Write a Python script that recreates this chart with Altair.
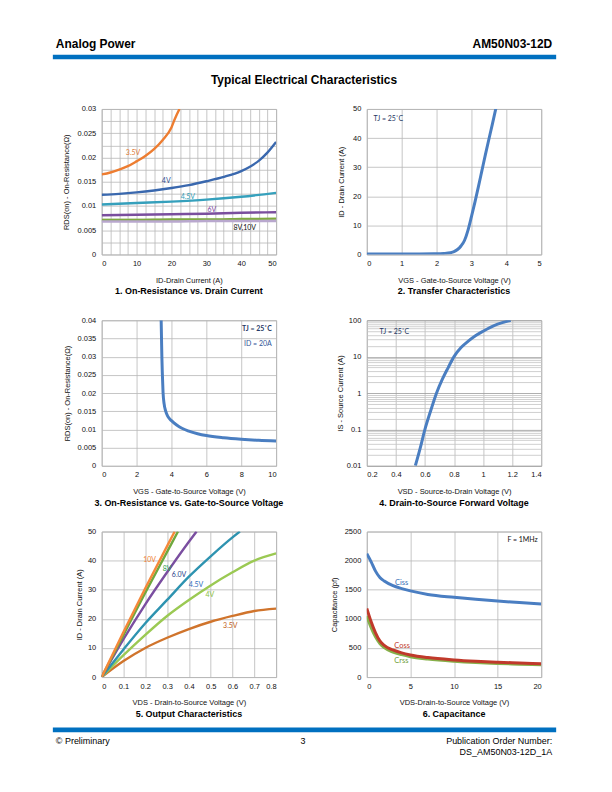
import altair as alt
import pandas as pd

FONT = "Liberation Sans"
ANN = "Lato"
GRID = "#B8B8B8"
W, H = 175, 146

# ---------------- Chart 1: RDS(on) vs ID ----------------
c1_x_35 = [0, 2.5, 5, 7.5, 10, 12.5, 15, 17.5, 20, 21, 22.3]
c1_y_35 = [0.0165, 0.0169, 0.0175, 0.0182, 0.0192, 0.0203, 0.0217, 0.0236, 0.0262, 0.0280, 0.0300]
c1_x_4 = [0, 5, 10, 15, 20, 25, 30, 35, 40, 42.5, 45, 47.5, 50]
c1_y_4 = [0.0123, 0.0125, 0.0128, 0.0132, 0.0137, 0.0143, 0.0151, 0.0160, 0.0172, 0.0181, 0.0193, 0.0210, 0.0232]
c1_x_flat = [0, 10, 20, 30, 40, 50]
c1_y_45 = [0.0103, 0.0106, 0.0109, 0.0113, 0.0119, 0.0127]
c1_y_6 = [0.0081, 0.0082, 0.0083, 0.0084, 0.0086, 0.0087]
c1_y_8 = [0.0071, 0.0071, 0.0072, 0.0072, 0.0073, 0.0074]
c1_y_10 = [0.0068, 0.0068, 0.0068, 0.0069, 0.0069, 0.0069]
c1_names = ["3.5V", "4V", "4.5V", "6V", "8V", "10V"]
c1_colors = ["#ED7D31", "#3A68AE", "#35A0BC", "#7A4E9E", "#7FAA3F", "#B9A8CE"]
c1_lbl_text = ["3.5V", "4V", "4.5V", "6V", "8V,10V"]
c1_lbl_x = [9, 18.5, 24.7, 31.6, 41]
c1_lbl_y = [0.0209, 0.0152, 0.0118, 0.0092, 0.0055]
c1_lbl_col = ["#E07B39", "#2F4F8F", "#31A0B8", "#7B3FA0", "#111111"]

# ---------------- Chart 2: Transfer ----------------
c2_vgs = [0, 0.5, 1.0, 1.5, 2.0, 2.2, 2.4, 2.5, 2.6, 2.7, 2.8, 2.9, 3.0, 3.1, 3.2, 3.3, 3.4, 3.5, 3.6, 3.7]
c2_id = [0.2, 0.2, 0.2, 0.2, 0.25, 0.35, 0.6, 0.95, 1.7, 2.9, 4.8, 8.3, 13.0, 18.0, 23.3, 28.8, 34.3, 39.6, 44.8, 50.2]

# ---------------- Chart 3: RDS vs VGS ----------------
c3_vgs = [3.41, 3.43, 3.45, 3.48, 3.52, 3.58, 3.67, 3.8, 4.0, 4.3, 4.6, 5.0, 5.5, 6.0, 7.0, 8.0, 9.0, 10.0]
c3_rds = [0.040, 0.035, 0.030, 0.025, 0.020, 0.017, 0.015, 0.0135, 0.0124, 0.0112, 0.0103, 0.0095, 0.0088, 0.0083, 0.0077, 0.0073, 0.0070, 0.0068]

# ---------------- Chart 4: Body diode ----------------
c4_vsd = [0.534, 0.567, 0.60, 0.64, 0.68, 0.72, 0.76, 0.80, 0.85, 0.90, 0.95, 1.00, 1.05, 1.10, 1.15, 1.19]
c4_is = [0.01, 0.03, 0.1, 0.33, 1.0, 2.4, 5.0, 10, 18, 27, 38, 50, 64, 78, 90, 100]

# ---------------- Chart 5: Output ----------------
c5_x_10 = [0, 0.1, 0.2, 0.3, 0.335]
c5_y_10 = [0, 15.5, 30.5, 45, 50]
c5_x_8 = [0, 0.1, 0.2, 0.3, 0.35]
c5_y_8 = [0, 14.5, 29, 43, 50]
c5_x_6 = [0, 0.1, 0.2, 0.3, 0.4, 0.435]
c5_y_6 = [0, 13, 25, 36, 46.5, 50]
c5_x_45 = [0, 0.1, 0.2, 0.3, 0.4, 0.5, 0.6, 0.634]
c5_y_45 = [0, 9.5, 18.5, 26.5, 34.5, 41.5, 48, 50]
c5_x_full = [0, 0.1, 0.2, 0.3, 0.4, 0.5, 0.6, 0.7, 0.8]
c5_y_4 = [0, 7.5, 14.5, 21, 26.5, 31.5, 36, 40, 42.5]
c5_y_35 = [0, 5.5, 10, 13.5, 16.5, 19, 21, 22.7, 23.5]
c5_names = ["10V", "8V", "6.0V", "4.5V", "4V", "3.5V"]
c5_colors = ["#F5883A", "#6FA83E", "#7A4EA0", "#2E93B0", "#9BC953", "#D0742C"]
c5_lbl_x = [0.22, 0.30, 0.355, 0.433, 0.496, 0.59]
c5_lbl_y = [40.3, 37.3, 35.2, 31.8, 28.3, 17.4]
c5_lbl_col = ["#F08030", "#2E9E4A", "#1F3C88", "#2F6EBA", "#8CC040", "#C06020"]

# ---------------- Chart 6: Capacitance ----------------
c6_v = [0, 0.5, 1, 1.5, 2, 3, 4, 5, 7, 10, 12.5, 15, 17.5, 20]
c6_ciss = [2120, 1980, 1820, 1710, 1650, 1570, 1520, 1480, 1420, 1370, 1335, 1305, 1280, 1255]
c6_coss = [1180, 950, 760, 620, 545, 465, 415, 380, 335, 295, 272, 255, 242, 230]
c6_crss = [1050, 850, 690, 575, 505, 430, 385, 350, 310, 272, 250, 235, 222, 210]
c6_names = ["Ciss", "Coss", "Crss"]
c6_colors = ["#4A7EC2", "#C0392B", "#86B04A"]
c6_lbl_x = [4.0, 4.05, 3.97]
c6_lbl_y = [1622, 536, 279]
c6_lbl_col = ["#3B6FB6", "#C0392B", "#6E9E3A"]

ONE = pd.DataFrame({"a": [0]})
FMT = "~r"


def long_df(pairs):
    rows = []
    for name, xs, ys in pairs:
        for i, (a, b) in enumerate(zip(xs, ys)):
            rows.append({"s": name, "x": a, "y": b, "o": i})
    return pd.DataFrame(rows)


def xaxis(values, title, expr=None):
    kw = dict(values=values, format=FMT, title=title, titleY=26, titleBaseline="middle")
    if expr:
        kw["labelExpr"] = expr
    return alt.Axis(**kw)


def yaxis(values, title, tx, expr=None, **extra):
    kw = dict(values=values, format=FMT, title=title, titleX=tx, titleBaseline="middle", labelPadding=6)
    if expr:
        kw["labelExpr"] = expr
    kw.update(extra)
    return alt.Axis(**kw)


def lines(df, X, Y, names, colors, width=2.5):
    return alt.Chart(df).mark_line(strokeWidth=width, clip=True, interpolate="monotone").encode(
        x=X, y=Y,
        color=alt.Color("s:N", scale=alt.Scale(domain=names, range=colors), legend=None),
        order=alt.Order("o:Q"),
    )


def labels(texts, xs, ys, cols, X, Y, size=7, weight="normal", align="center"):
    df = pd.DataFrame({"t": texts, "x": xs, "y": ys, "c": cols})
    return alt.Chart(df).mark_text(font=ANN, fontSize=size, fontWeight=weight, align=align,
                                   baseline="middle").encode(
        x=X, y=Y, text="t:N", color=alt.Color("c:N", scale=None))


def caption(text):
    return alt.Chart(ONE).mark_text(font=FONT, fontSize=9, fontWeight="bold", align="center",
                                    baseline="middle", color="#000").encode(
        x=alt.value(W / 2), y=alt.value(H + 37), text=alt.value(text))


def page_text(text, x, y, size, weight="normal", align="left"):
    return alt.Chart(ONE).mark_text(font=FONT, fontSize=size, fontWeight=weight, align=align,
                                    baseline="alphabetic", color="#000").encode(
        x=alt.value(x), y=alt.value(y), text=alt.value(text))


def page_rect(x, x2, y, y2, color, opacity=1.0):
    return alt.Chart(ONE).mark_rect(color=color, opacity=opacity).encode(
        x=alt.value(x), x2=alt.value(x2), y=alt.value(y), y2=alt.value(y2))


# ---------- Panel 1 ----------
X1 = alt.X("x:Q", scale=alt.Scale(domain=[0, 50], nice=False),
           axis=xaxis([i * 2.5 for i in range(21)], "ID-Drain Current (A)",
                      "datum.value % 10 == 0 ? datum.label : ''"))
Y1 = alt.Y("y:Q", scale=alt.Scale(domain=[0, 0.03], nice=False),
           axis=yaxis([round(i * 0.0025, 4) for i in range(13)], "RDS(on) - On-Resistance(Ω)", -35,
                      "round(datum.value * 10000) % 50 == 0 ? datum.label : ''"))
df1 = long_df([("3.5V", c1_x_35, c1_y_35), ("4V", c1_x_4, c1_y_4), ("4.5V", c1_x_flat, c1_y_45),
               ("6V", c1_x_flat, c1_y_6), ("8V", c1_x_flat, c1_y_8), ("10V", c1_x_flat, c1_y_10)])

# page decorations are placed relative to the first panel's plot origin (101, 107)
p1 = alt.layer(
    page_rect(-93, 503, -99, 677, "#ffffff", 0.0),
    lines(df1, X1, Y1, c1_names, c1_colors, 2.4),
    labels(c1_lbl_text, c1_lbl_x, c1_lbl_y, c1_lbl_col, X1, Y1),
    caption("1. On-Resistance vs. Drain Current"),
    page_text("Analog Power", -46, -61, 12, "bold"),
    page_text("AM50N03-12D", 452, -61, 12, "bold", "right"),
    page_rect(-49, 456, -54.5, -50, "#0070C0"),
    page_text("Typical Electrical Characteristics", 203, -25, 12, "bold", "center"),
    page_rect(-49, 456, 620.5, 625.5, "#0070C0"),
    page_text("© Preliminary", -46, 637, 9),
    page_text("3", 202, 637, 9, "normal", "center"),
    page_text("Publication Order Number:", 452, 637, 9, "normal", "right"),
    page_text("DS_AM50N03-12D_1A", 452, 648, 9, "normal", "right"),
).resolve_scale(color="independent").properties(width=W, height=H)

# ---------- Panel 2 ----------
X2 = alt.X("x:Q", scale=alt.Scale(domain=[0, 5], nice=False),
           axis=xaxis([0, 1, 2, 3, 4, 5], "VGS - Gate-to-Source Voltage (V)"))
Y2 = alt.Y("y:Q", scale=alt.Scale(domain=[0, 50], nice=False),
           axis=yaxis([0, 10, 20, 30, 40, 50], "ID - Drain Current (A)", -25))
df2 = long_df([("c", c2_vgs, c2_id)])
p2 = alt.layer(
    lines(df2, X2, Y2, ["c"], ["#4A7EC1"], 3),
    labels(["TJ = 25˚C"], [0.62], [46.5], ["#1F3864"], X2, Y2, 7),
    caption("2. Transfer Characteristics"),
).resolve_scale(color="independent").properties(width=W, height=H)

# ---------- Panel 3 ----------
X3 = alt.X("x:Q", scale=alt.Scale(domain=[0, 10], nice=False),
           axis=xaxis([0, 2, 4, 6, 8, 10], "VGS - Gate-to-Source Voltage (V)"))
Y3 = alt.Y("y:Q", scale=alt.Scale(domain=[0, 0.04], nice=False),
           axis=yaxis([round(i * 0.005, 4) for i in range(9)], "RDS(on) - On-Resistance(Ω)", -34))
df3 = long_df([("c", c3_vgs, c3_rds)])
p3 = alt.layer(
    lines(df3, X3, Y3, ["c"], ["#4A7EC1"], 3),
    labels(["TJ = 25˚C"], [9.75], [0.0375], ["#1F3864"], X3, Y3, 7, "bold", "right"),
    labels(["ID = 20A"], [9.75], [0.0336], ["#2F5597"], X3, Y3, 7, "normal", "right"),
    caption("3. On-Resistance vs. Gate-to-Source Voltage"),
).resolve_scale(color="independent").properties(width=W, height=H)

# ---------- Panel 4 ----------
c4_grid = []
for d in [0.01, 0.1, 1, 10]:
    for m in range(1, 10):
        c4_grid.append(round(d * m, 4))
c4_grid.append(100)
X4 = alt.X("x:Q", scale=alt.Scale(domain=[0.2, 1.4], nice=False),
           axis=xaxis([0.2, 0.4, 0.6, 0.8, 1.0, 1.2, 1.4], "VSD - Source-to-Drain Voltage (V)"))
Y4 = alt.Y("y:Q", scale=alt.Scale(type="log", domain=[0.01, 100], nice=False),
           axis=yaxis(c4_grid, "IS - Source Current (A)", -26,
                      "indexof(['0.01','0.1','1','10','100'], datum.label) >= 0 ? datum.label : ''",
                      gridColor={"condition": {"test": "indexof([0.01, 0.1, 1, 10, 100], datum.value) >= 0",
                                               "value": "#9A9A9A"}, "value": "#C4C4C4"}))
df4 = long_df([("c", c4_vsd, c4_is)])
p4 = alt.layer(
    lines(df4, X4, Y4, ["c"], ["#4A7EC1"], 3),
    labels(["TJ = 25˚C"], [0.39], [47], ["#1F3864"], X4, Y4, 7),
    caption("4. Drain-to-Source Forward Voltage"),
).resolve_scale(color="independent").properties(width=W, height=H)

# ---------- Panel 5 ----------
X5 = alt.X("x:Q", scale=alt.Scale(domain=[0, 0.8], nice=False),
           axis=xaxis([0, 0.1, 0.2, 0.3, 0.4, 0.5, 0.6, 0.7, 0.8], "VDS - Drain-to-Source Voltage (V)"))
Y5 = alt.Y("y:Q", scale=alt.Scale(domain=[0, 50], nice=False),
           axis=yaxis([0, 10, 20, 30, 40, 50], "ID - Drain Current (A)", -22))
df5 = long_df([("3.5V", c5_x_full, c5_y_35), ("4V", c5_x_full, c5_y_4), ("4.5V", c5_x_45, c5_y_45),
               ("6.0V", c5_x_6, c5_y_6), ("8V", c5_x_8, c5_y_8), ("10V", c5_x_10, c5_y_10)])
p5 = alt.layer(
    lines(df5, X5, Y5, c5_names, c5_colors, 2.4),
    labels(c5_names, c5_lbl_x, c5_lbl_y, c5_lbl_col, X5, Y5),
    caption("5. Output Characteristics"),
).resolve_scale(color="independent").properties(width=W, height=H)

# ---------- Panel 6 ----------
X6 = alt.X("x:Q", scale=alt.Scale(domain=[0, 20], nice=False),
           axis=xaxis([0, 5, 10, 15, 20], "VDS-Drain-to-Source Voltage (V)"))
Y6 = alt.Y("y:Q", scale=alt.Scale(domain=[0, 2500], nice=False),
           axis=yaxis([0, 500, 1000, 1500, 2000, 2500], "Capacitance (pf)", -32))
df6 = long_df([("Crss", c6_v, c6_crss), ("Coss", c6_v, c6_coss), ("Ciss", c6_v, c6_ciss)])
p6 = alt.layer(
    lines(df6, X6, Y6, c6_names, c6_colors, 3),
    labels(c6_names, c6_lbl_x, c6_lbl_y, c6_lbl_col, X6, Y6, 7.5),
    labels(["F = 1MHz"], [19.6], [2360], ["#111111"], X6, Y6, 7, "normal", "right"),
    caption("6. Capacitance"),
).resolve_scale(color="independent").properties(width=W, height=H)

chart = alt.concat(
    p1, p2, p3, p4, p5, p6,
    columns=2,
    spacing={"row": 66, "column": 91},
    bounds="flush",
).properties(
    padding=0
).configure_axis(
    labelFont=FONT, labelFontSize=7.5, labelColor="#111111",
    titleFont=FONT, titleFontSize=7.5, titleFontWeight="normal", titleColor="#111111",
    gridColor=GRID, gridWidth=0.8, domain=False, ticks=False, tickSize=0, labelPadding=5,
).configure_view(stroke=GRID, strokeWidth=1)

chart.save("out.html", embed_options={"renderer": "svg", "actions": False})
